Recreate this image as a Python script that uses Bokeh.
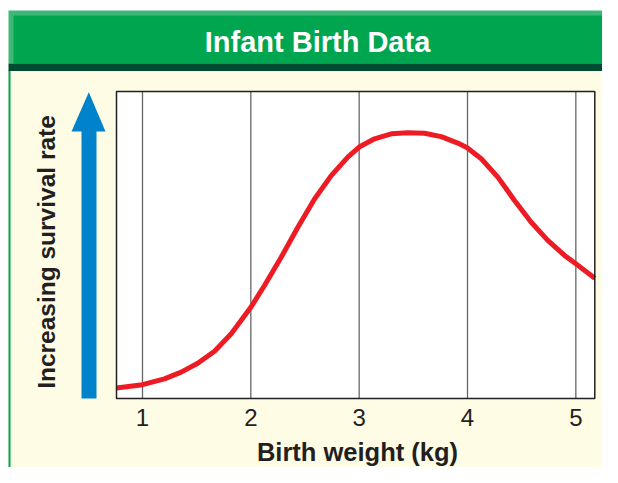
import math
from bokeh.plotting import figure
from bokeh.models import Range1d
from bokeh.core.properties import value
from bokeh.embed import file_html
from bokeh.resources import INLINE

# ---------------- data ----------------
title_text = "Infant Birth Data"
x_label = "Birth weight (kg)"
y_label = "Increasing survival rate"
tick_values = [1, 2, 3, 4, 5]
tick_labels = ["1", "2", "3", "4", "5"]

weight_kg = [0.760, 1.000, 1.203, 1.357, 1.510, 1.665, 1.819, 2.000, 2.126, 2.280,
             2.434, 2.588, 2.742, 2.895, 3.000, 3.142, 3.296, 3.449, 3.603, 3.757,
             3.911, 3.997, 4.127, 4.280, 4.434, 4.588, 4.741, 4.896, 5.000, 5.175]
survival = [3.4, 4.5, 6.4, 8.6, 11.5, 15.4, 21.1, 29.7, 36.8, 46.0,
            55.8, 65.0, 72.6, 78.6, 81.9, 84.6, 86.2, 86.6, 86.4, 85.3,
            83.2, 81.7, 78.1, 72.1, 64.5, 57.4, 51.5, 46.6, 43.9, 39.2]

x_min, x_max = 0.760, 5.175
y_min, y_max = 0.0, 100.0

# ---------------- layout (pixels inside the figure) ----------------
W, H = 602, 467
PLOT_L, PLOT_R, PLOT_T, PLOT_B = 116.0, 594.3, 91.0, 398.0
TXT_SHIFT = 10.0  # the SVG text baseline lands about this much lower
sx = (PLOT_R - PLOT_L) / (x_max - x_min)
sy = (PLOT_B - PLOT_T) / (y_max - y_min)


def dx(px):
    return x_min + (px - PLOT_L) / sx


def dy(py):
    return y_min + (PLOT_B - py) / sy


FONT = value("Liberation Sans")
INK = "#231F20"
GREEN = "#00A54F"

p = figure(width=W, height=H,
           x_range=Range1d(dx(0), dx(W)), y_range=Range1d(dy(H), dy(0)),
           x_axis_type=None, y_axis_type=None, min_border=0,
           toolbar_location=None, output_backend="svg",
           background_fill_color="white", border_fill_color="white",
           outline_line_color=None)

# cream panel
p.quad(left=dx(8), right=dx(W), top=dy(70), bottom=dy(H),
       fill_color="#FFFCE6", line_color=None)
# green left rule
p.quad(left=dx(8), right=dx(10), top=dy(70), bottom=dy(H),
       fill_color=GREEN, line_color=None)
# header
p.quad(left=dx(8), right=dx(W), top=dy(10), bottom=dy(63),
       fill_color="#3DB877", line_color=None)
p.quad(left=dx(13), right=dx(W), top=dy(15), bottom=dy(63),
       fill_color=GREEN, line_color=None)
p.quad(left=dx(8), right=dx(W), top=dy(63), bottom=dy(70.5),
       fill_color="#004C30", line_color=None)
p.text(x=[dx(317)], y=[dy(51.7 - TXT_SHIFT)], text=[title_text], text_font=FONT,
       text_font_style="bold", text_font_size=value("29px"),
       text_color="white", text_align="center", text_baseline="alphabetic")

# plot box
p.quad(left=x_min, right=x_max, top=y_max, bottom=y_min,
       fill_color="white", line_color=None)
p.segment(x0=tick_values, y0=[y_min] * len(tick_values),
          x1=tick_values, y1=[y_max] * len(tick_values),
          line_color="#666666", line_width=1.3)
p.line(weight_kg, survival, line_color="#ED1C24", line_width=5,
       line_join="round")
p.quad(left=x_min, right=x_max, top=y_max, bottom=y_min,
       fill_color=None, line_color=INK, line_width=1.5)

# x tick labels and axis title
p.text(x=tick_values, y=[dy(427 - TXT_SHIFT)] * len(tick_values), text=tick_labels,
       text_font=FONT, text_font_size=value("24px"), text_color=INK,
       text_align="center", text_baseline="alphabetic")
p.text(x=[dx(357)], y=[dy(461 - TXT_SHIFT)], text=[x_label], text_font=FONT,
       text_font_style="bold", text_font_size=value("25.5px"), text_color=INK,
       text_align="center", text_baseline="alphabetic")

# survival arrow and vertical title
p.quad(left=dx(81), right=dx(96), top=dy(130), bottom=dy(398),
       fill_color="#0083CA", line_color=None)
p.patch(x=[dx(71), dx(105), dx(88.3)], y=[dy(131), dy(131), dy(91.7)],
        fill_color="#0083CA", line_color=None)
p.text(x=[dx(55.5 - TXT_SHIFT)], y=[dy(251.5)], text=[y_label], angle=math.pi / 2,
       text_font=FONT, text_font_style="bold", text_font_size=value("24.5px"),
       text_color=INK, text_align="center", text_baseline="alphabetic")

open("out.html", "w").write(file_html(p, INLINE))
